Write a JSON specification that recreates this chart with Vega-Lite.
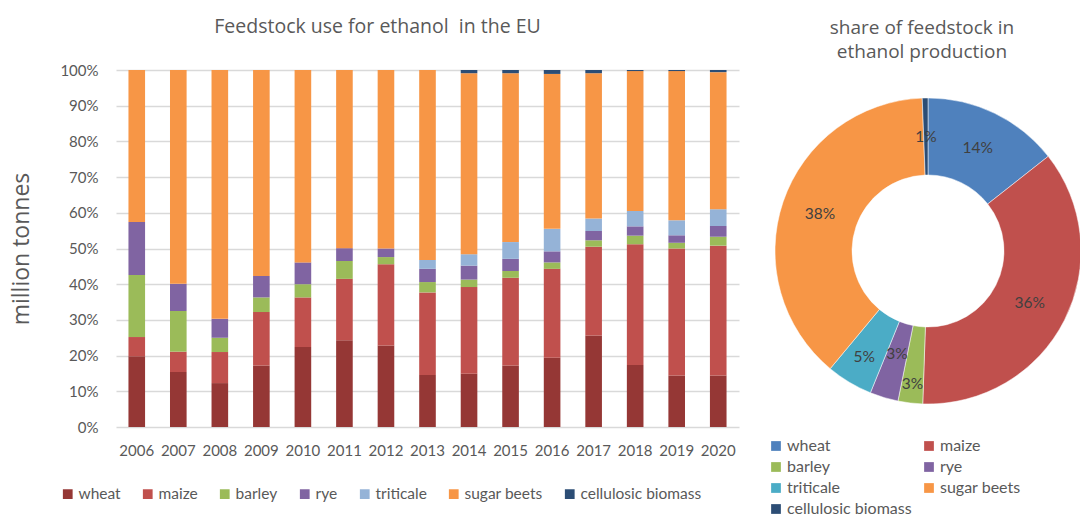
{
  "$schema": "https://vega.github.io/schema/vega-lite/v6.json",
  "background": "white",
  "padding": {"left": 10, "top": 16, "right": 0, "bottom": 0},
  "config": {"font": "Lato", "view": {"stroke": null}},
  "datasets": {
    "bars": [
      {"year": "2006", "feedstock": "wheat", "value": 19.8},
      {"year": "2006", "feedstock": "maize", "value": 5.4},
      {"year": "2006", "feedstock": "barley", "value": 17.4},
      {"year": "2006", "feedstock": "rye", "value": 14.8},
      {"year": "2006", "feedstock": "sugar beets", "value": 42.6},
      {"year": "2007", "feedstock": "wheat", "value": 15.4},
      {"year": "2007", "feedstock": "maize", "value": 5.7},
      {"year": "2007", "feedstock": "barley", "value": 11.4},
      {"year": "2007", "feedstock": "rye", "value": 7.6},
      {"year": "2007", "feedstock": "sugar beets", "value": 59.9},
      {"year": "2008", "feedstock": "wheat", "value": 12.3},
      {"year": "2008", "feedstock": "maize", "value": 8.7},
      {"year": "2008", "feedstock": "barley", "value": 4.0},
      {"year": "2008", "feedstock": "rye", "value": 5.3},
      {"year": "2008", "feedstock": "sugar beets", "value": 69.7},
      {"year": "2009", "feedstock": "wheat", "value": 17.2},
      {"year": "2009", "feedstock": "maize", "value": 15.0},
      {"year": "2009", "feedstock": "barley", "value": 4.1},
      {"year": "2009", "feedstock": "rye", "value": 6.0},
      {"year": "2009", "feedstock": "sugar beets", "value": 57.7},
      {"year": "2010", "feedstock": "wheat", "value": 22.4},
      {"year": "2010", "feedstock": "maize", "value": 13.9},
      {"year": "2010", "feedstock": "barley", "value": 3.7},
      {"year": "2010", "feedstock": "rye", "value": 6.1},
      {"year": "2010", "feedstock": "sugar beets", "value": 53.9},
      {"year": "2011", "feedstock": "wheat", "value": 24.3},
      {"year": "2011", "feedstock": "maize", "value": 17.2},
      {"year": "2011", "feedstock": "barley", "value": 5.0},
      {"year": "2011", "feedstock": "rye", "value": 3.6},
      {"year": "2011", "feedstock": "sugar beets", "value": 49.9},
      {"year": "2012", "feedstock": "wheat", "value": 22.8},
      {"year": "2012", "feedstock": "maize", "value": 22.8},
      {"year": "2012", "feedstock": "barley", "value": 2.0},
      {"year": "2012", "feedstock": "rye", "value": 2.4},
      {"year": "2012", "feedstock": "sugar beets", "value": 50.0},
      {"year": "2013", "feedstock": "wheat", "value": 14.6},
      {"year": "2013", "feedstock": "maize", "value": 23.1},
      {"year": "2013", "feedstock": "barley", "value": 2.9},
      {"year": "2013", "feedstock": "rye", "value": 3.7},
      {"year": "2013", "feedstock": "triticale", "value": 2.5},
      {"year": "2013", "feedstock": "sugar beets", "value": 53.2},
      {"year": "2014", "feedstock": "wheat", "value": 14.9},
      {"year": "2014", "feedstock": "maize", "value": 24.3},
      {"year": "2014", "feedstock": "barley", "value": 2.1},
      {"year": "2014", "feedstock": "rye", "value": 3.9},
      {"year": "2014", "feedstock": "triticale", "value": 3.2},
      {"year": "2014", "feedstock": "sugar beets", "value": 50.7},
      {"year": "2014", "feedstock": "cellulosic biomass", "value": 0.9},
      {"year": "2015", "feedstock": "wheat", "value": 17.2},
      {"year": "2015", "feedstock": "maize", "value": 24.6},
      {"year": "2015", "feedstock": "barley", "value": 1.9},
      {"year": "2015", "feedstock": "rye", "value": 3.4},
      {"year": "2015", "feedstock": "triticale", "value": 4.7},
      {"year": "2015", "feedstock": "sugar beets", "value": 47.3},
      {"year": "2015", "feedstock": "cellulosic biomass", "value": 0.9},
      {"year": "2016", "feedstock": "wheat", "value": 19.4},
      {"year": "2016", "feedstock": "maize", "value": 24.9},
      {"year": "2016", "feedstock": "barley", "value": 1.8},
      {"year": "2016", "feedstock": "rye", "value": 3.1},
      {"year": "2016", "feedstock": "triticale", "value": 6.3},
      {"year": "2016", "feedstock": "sugar beets", "value": 43.4},
      {"year": "2016", "feedstock": "cellulosic biomass", "value": 1.1},
      {"year": "2017", "feedstock": "wheat", "value": 25.6},
      {"year": "2017", "feedstock": "maize", "value": 24.9},
      {"year": "2017", "feedstock": "barley", "value": 1.8},
      {"year": "2017", "feedstock": "rye", "value": 2.6},
      {"year": "2017", "feedstock": "triticale", "value": 3.5},
      {"year": "2017", "feedstock": "sugar beets", "value": 40.7},
      {"year": "2017", "feedstock": "cellulosic biomass", "value": 0.9},
      {"year": "2018", "feedstock": "wheat", "value": 17.4},
      {"year": "2018", "feedstock": "maize", "value": 33.8},
      {"year": "2018", "feedstock": "barley", "value": 2.4},
      {"year": "2018", "feedstock": "rye", "value": 2.6},
      {"year": "2018", "feedstock": "triticale", "value": 4.3},
      {"year": "2018", "feedstock": "sugar beets", "value": 39.2},
      {"year": "2018", "feedstock": "cellulosic biomass", "value": 0.3},
      {"year": "2019", "feedstock": "wheat", "value": 14.4},
      {"year": "2019", "feedstock": "maize", "value": 35.6},
      {"year": "2019", "feedstock": "barley", "value": 1.6},
      {"year": "2019", "feedstock": "rye", "value": 2.1},
      {"year": "2019", "feedstock": "triticale", "value": 4.2},
      {"year": "2019", "feedstock": "sugar beets", "value": 41.8},
      {"year": "2019", "feedstock": "cellulosic biomass", "value": 0.3},
      {"year": "2020", "feedstock": "wheat", "value": 14.4},
      {"year": "2020", "feedstock": "maize", "value": 36.4},
      {"year": "2020", "feedstock": "barley", "value": 2.5},
      {"year": "2020", "feedstock": "rye", "value": 3.0},
      {"year": "2020", "feedstock": "triticale", "value": 4.7},
      {"year": "2020", "feedstock": "sugar beets", "value": 38.4},
      {"year": "2020", "feedstock": "cellulosic biomass", "value": 0.6}
    ],
    "share": [
      {"feedstock": "wheat", "share": 0.144},
      {"feedstock": "maize", "share": 0.362},
      {"feedstock": "barley", "share": 0.026},
      {"feedstock": "rye", "share": 0.030},
      {"feedstock": "triticale", "share": 0.049},
      {"feedstock": "sugar beets", "share": 0.384},
      {"feedstock": "cellulosic biomass", "share": 0.006}
    ]
  },
  "spacing": 36,
  "bounds": "flush",
  "resolve": {"scale": {"color": "independent"}, "legend": {"color": "independent"}},
  "hconcat": [
    {
      "width": 623,
      "height": 357,
      "title": {"text": "Feedstock use for ethanol\u00a0 in the EU", "font": "Open Sans", "fontSize": 19.5, "fontWeight": "normal", "color": "#595959", "anchor": "middle", "dx": -50, "offset": 26},
      "data": {"name": "bars"},
      "transform": [
        {"calculate": "indexof(['wheat','maize','barley','rye','triticale','sugar beets','cellulosic biomass'], datum.feedstock)", "as": "rank"}
      ],
      "mark": {"type": "bar"},
      "encoding": {
        "x": {
          "field": "year", "type": "ordinal",
          "scale": {"paddingInner": 0.6, "paddingOuter": 0.3},
          "axis": {"title": null, "labelAngle": 0, "domain": false, "ticks": false, "labelPadding": 16, "labelFontSize": 15, "labelColor": "#595959"}
        },
        "y": {
          "field": "value", "type": "quantitative", "stack": "normalize",
          "scale": {"domain": [0, 1]},
          "axis": {
            "title": "million tonnes", "format": ".0%",
            "values": [0, 0.1, 0.2, 0.3, 0.4, 0.5, 0.6, 0.7, 0.8, 0.9, 1],
            "domain": false, "ticks": false, "gridColor": "#D9D9D9", "gridWidth": 1.5,
            "labelPadding": 18, "labelFontSize": 15, "labelColor": "#595959",
            "titleFont": "Open Sans", "titleFontSize": 23, "titleFontWeight": "normal", "titleColor": "#595959", "titlePadding": 26
          }
        },
        "color": {
          "field": "feedstock", "type": "nominal",
          "scale": {
            "domain": ["wheat", "maize", "barley", "rye", "triticale", "sugar beets", "cellulosic biomass"],
            "range": ["#953735", "#C0504D", "#9BBB59", "#8064A2", "#95B3D7", "#F79646", "#2C4D75"]
          },
          "legend": {
            "title": null, "orient": "none", "legendX": -56, "legendY": 416, "direction": "horizontal",
            "symbolType": "square", "symbolSize": 95, "symbolStrokeWidth": 0,
            "labelFontSize": 15.5, "labelColor": "#595959", "labelOffset": 3, "columnPadding": 19
          }
        },
        "order": {"field": "rank", "type": "quantitative"}
      }
    },
    {
      "width": 306,
      "height": 362,
      "title": {"text": ["share of feedstock in", "ethanol production"], "font": "Open Sans", "fontSize": 19, "fontWeight": "normal", "color": "#595959", "anchor": "middle", "dx": -6, "lineHeight": 24, "offset": 8},
      "data": {"name": "share"},
      "transform": [
        {"calculate": "indexof(['wheat','maize','barley','rye','triticale','sugar beets','cellulosic biomass'], datum.feedstock)", "as": "rank"}
      ],
      "encoding": {
        "theta": {"field": "share", "type": "quantitative", "stack": true},
        "order": {"field": "rank", "type": "quantitative"}
      },
      "layer": [
        {
          "mark": {"type": "arc", "outerRadius": 153, "innerRadius": 76, "stroke": "white", "strokeWidth": 0.5},
          "encoding": {
            "color": {
              "field": "feedstock", "type": "nominal",
              "scale": {
                "domain": ["wheat", "barley", "triticale", "cellulosic biomass", "maize", "rye", "sugar beets"],
                "range": ["#4F81BD", "#9BBB59", "#4BACC6", "#2C4D75", "#C0504D", "#8064A2", "#F79646"]
              },
              "legend": {
                "title": null, "orient": "none", "legendX": -7, "legendY": 368, "columns": 2,
                "symbolType": "square", "symbolSize": 95, "symbolStrokeWidth": 0,
                "labelFontSize": 16, "labelColor": "#595959", "labelOffset": 3, "columnPadding": 9, "rowPadding": 5
              }
            }
          }
        },
        {
          "mark": {"type": "text", "radius": {"expr": "datum.feedstock === 'barley' ? 134 : datum.feedstock === 'triticale' ? 124 : datum.feedstock === 'rye' ? 108 : 114"}, "fontSize": 15.5, "color": "#404040"},
          "encoding": {
            "detail": {"field": "feedstock", "type": "nominal"},
            "text": {"field": "share", "type": "quantitative", "format": ".0%"}
          }
        }
      ]
    }
  ]
}
